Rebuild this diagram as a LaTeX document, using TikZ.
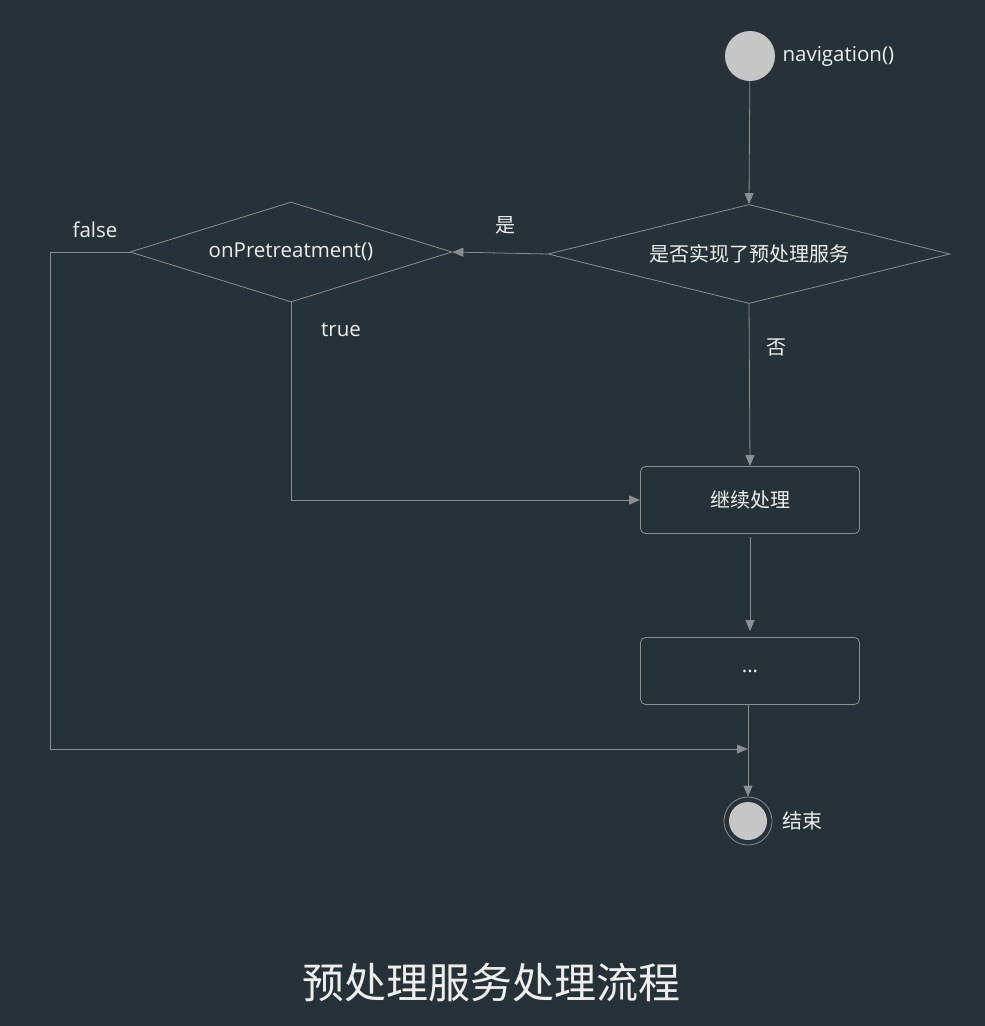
\documentclass[tikz,border=0pt]{standalone}
\usepackage{fontspec}
\setmainfont{Open Sans}
\newfontfamily\cjk{Noto Sans CJK SC}
\usepackage{xcolor}
\usetikzlibrary{arrows.meta,shapes.geometric}
\definecolor{bgdark}{HTML}{263238}
\definecolor{linegray}{HTML}{8C8F91}
\definecolor{dotgray}{HTML}{C6C6C6}
\definecolor{txtwhite}{HTML}{EEEEEE}
\newcommand{\lbl}{\fontsize{20.5}{22}\selectfont}
\newcommand{\zh}{\cjk\fontsize{20}{22}\selectfont}

\begin{document}
\begin{tikzpicture}[x=1pt,y=-1pt,
	every node/.style={text=txtwhite,font=\lbl},
	cond/.style={diamond,draw=linegray,line width=.8pt,inner sep=0pt,aspect=3},
	stepbox/.style={rectangle,rounded corners=5pt,draw=linegray,line width=.8pt,
		minimum width=219pt,minimum height=67pt},
	dot/.style={circle,fill=dotgray,inner sep=0pt},
	flow/.style={->,linegray,line width=.8pt,>={Triangle[length=11pt,width=9pt]}}]
	\fill[bgdark] (0,0) rectangle (985,1026);
	\useasboundingbox (0,0) rectangle (985,1026);
	%
	\node[dot,minimum size=50pt] (start) at (750,56) {};
	\node[anchor=west] at (779,56) {navigation()};
	\node[cond,minimum width=402pt,minimum height=99pt,font=\zh] (impl) at (749,254) {是否实现了预处理服务};
	\node[cond,minimum width=322pt,minimum height=100pt] (pre) at (291,252) {onPretreatment()};
	\node[stepbox,font=\zh] (cont) at (750,500) {继续处理};
	\node[stepbox] (more) at (750,671) {...};
	\node[circle,draw=linegray,line width=.8pt,minimum size=48pt,inner sep=0pt] (stop) at (748,821) {};
	\node[dot,minimum size=38pt] at (stop) {};
	\node[anchor=west,font=\zh] at (779,821) {结束};
	\coordinate (merge) at (748,749);
	%
	\path[flow]
	(start) edge (impl.north)
	(impl.west) edge node[above=15pt,xshift=5pt,font=\zh]{是} (pre.east)
	(impl.south) edge node[right=13pt,pos=.27,font=\zh]{否} (cont.north)
	(cont.south) edge[shorten <=3pt,shorten >=6pt] (more.north)
	(more.south -| merge) edge (stop.north);
	\draw[flow] (pre.west) -- (50,252) -- (50,749) -- (merge);
	\draw[flow] (pre.south) |- (cont.west);
	%
	\node () at (95,230) {false};
	\node () at (341,330) {true};
	\node () at (491,983) {\cjk\fontsize{42}{46}\selectfont 预处理服务处理流程};
\end{tikzpicture}
\end{document}
